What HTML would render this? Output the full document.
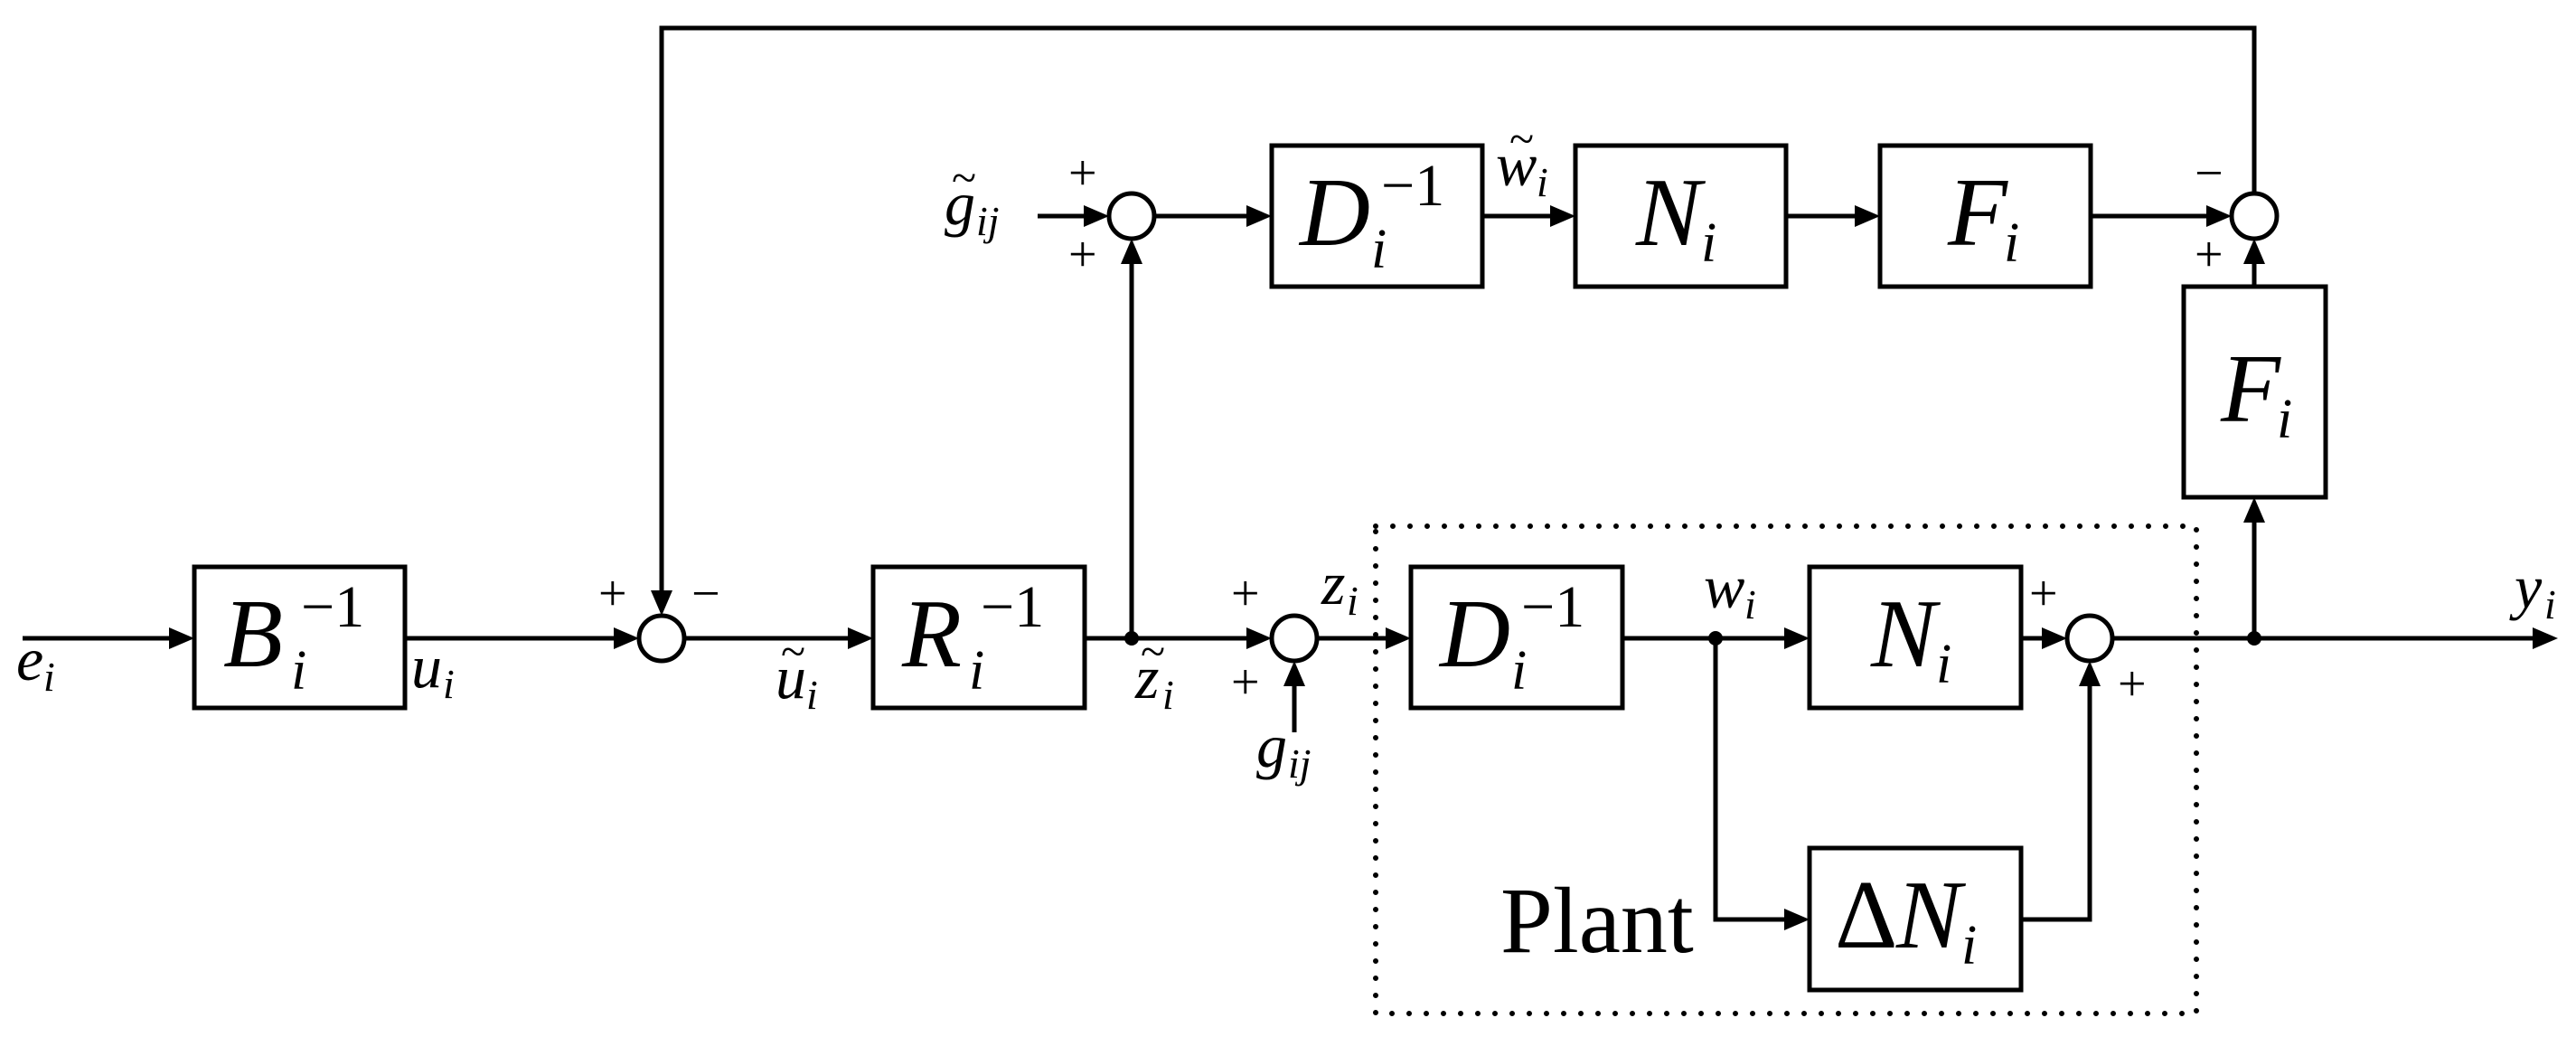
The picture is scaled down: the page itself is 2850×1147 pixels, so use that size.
<!DOCTYPE html>
<html><head><meta charset="utf-8"><style>
html,body{margin:0;padding:0;background:#fff}
svg{display:block}
text{font-family:'Liberation Serif','DejaVu Serif',serif;fill:#000}
.it{font-style:italic}
.big{font-size:108px}
.sup{font-size:66px;font-style:normal}
.sub{font-size:62px;font-style:italic}
.lbl{font-size:68px;font-style:italic}
.lsub{font-size:46px;font-style:italic}
.pm{font-size:56px}
.tl{font-size:50px;font-style:normal}
</style></head><body>
<svg width="2850" height="1147" viewBox="0 0 2850 1147" xmlns="http://www.w3.org/2000/svg" font-family="Liberation Serif, serif">
<g fill="none" stroke="#000" stroke-width="5">
<rect x="215" y="627" width="233" height="156"/>
<rect x="966" y="627" width="234" height="156"/>
<rect x="1561" y="627" width="234" height="156"/>
<rect x="2002" y="627" width="234" height="156"/>
<rect x="2002" y="938" width="234" height="157"/>
<rect x="1407" y="161" width="233" height="156"/>
<rect x="1743" y="161" width="233" height="156"/>
<rect x="2080" y="161" width="233" height="156"/>
<rect x="2416" y="317" width="157" height="233"/>
<circle cx="732" cy="706" r="25"/>
<circle cx="1432" cy="706" r="25"/>
<circle cx="2312" cy="706" r="25"/>
<circle cx="1252" cy="239" r="25"/>
<circle cx="2494" cy="239" r="25"/>
<path d="M25 706H188"/>
<path d="M448 706H680"/>
<path d="M757 706H939"/>
<path d="M1200 706H1380"/>
<path d="M1457 706H1534"/>
<path d="M1795 706H1975"/>
<path d="M2236 706H2260"/>
<path d="M2337 706H2803"/>
<path d="M1252 706V291"/>
<path d="M1432 810V758"/>
<path d="M1148 239H1200"/>
<path d="M1277 239H1380"/>
<path d="M1640 239H1716"/>
<path d="M1976 239H2053"/>
<path d="M2313 239H2442"/>
<path d="M2494 214V31H732V654"/>
<path d="M2494 706V577"/>
<path d="M2494 317V291"/>
<path d="M1898 706V1017H1975"/>
<path d="M2236 1017H2312V758"/>
</g>
<rect x="1522" y="582" width="908" height="539" fill="none" stroke="#000" stroke-width="6" stroke-linecap="round" stroke-dasharray="0 19"/>
<g fill="#000">
<polygon points="215,706 187,694 187,718"/>
<polygon points="707,706 679,694 679,718"/>
<polygon points="966,706 938,694 938,718"/>
<polygon points="1407,706 1379,694 1379,718"/>
<polygon points="1561,706 1533,694 1533,718"/>
<polygon points="2002,706 1974,694 1974,718"/>
<polygon points="2287,706 2259,694 2259,718"/>
<polygon points="2830,706 2802,694 2802,718"/>
<polygon points="2002,1017 1974,1005 1974,1029"/>
<polygon points="732,681 720,653 744,653"/>
<polygon points="1432,731 1420,759 1444,759"/>
<polygon points="2312,731 2300,759 2324,759"/>
<polygon points="1252,264 1240,292 1264,292"/>
<polygon points="2494,264 2482,292 2506,292"/>
<polygon points="2494,550 2482,578 2506,578"/>
<polygon points="1227,239 1199,227 1199,251"/>
<polygon points="1407,239 1379,227 1379,251"/>
<polygon points="1743,239 1715,227 1715,251"/>
<polygon points="2080,239 2052,227 2052,251"/>
<polygon points="2469,239 2441,227 2441,251"/>
<circle cx="1252" cy="706" r="8"/>
<circle cx="1898" cy="706" r="8"/>
<circle cx="2494" cy="706" r="8"/>
</g>
<text x="247" y="737" class="big it">B</text><text x="333" y="693" class="sup">−1</text><text x="322" y="762" class="sub">i</text>
<text x="998" y="737" class="big it">R</text><text x="1085" y="693" class="sup">−1</text><text x="1072" y="762" class="sub">i</text>
<text x="1593" y="737" class="big it">D</text><text x="1683" y="693" class="sup">−1</text><text x="1672" y="762" class="sub">i</text>
<text x="1438" y="271" class="big it">D</text><text x="1528" y="227" class="sup">−1</text><text x="1517" y="296" class="sub">i</text>
<text x="2070" y="737" class="big it">N</text><text x="2142" y="755" class="sub">i</text>
<text x="1810" y="271" class="big it">N</text><text x="1882" y="289" class="sub">i</text>
<text x="2155" y="271" class="big it">F</text><text x="2217" y="289" class="sub">i</text>
<text x="2457" y="466" class="big it">F</text><text x="2519" y="484" class="sub">i</text>
<text x="2030" y="1048" class="big">Δ</text><text x="2098" y="1048" class="big it">N</text><text x="2170" y="1066" class="sub">i</text>
<text x="1660" y="1053" style="font-size:104px">Plant</text>
<text x="18" y="752" class="lbl">e</text><text x="48" y="764" class="lsub">i</text>
<text x="455" y="760" class="lbl">u</text><text x="490" y="772" class="lsub">i</text>
<text x="858" y="772" class="lbl">u</text><text x="864" y="737" class="tl">~</text><text x="892" y="784" class="lsub">i</text>
<text x="1256" y="772" class="lbl">z</text><text x="1262" y="737" class="tl">~</text><text x="1286" y="784" class="lsub">i</text>
<text x="1390" y="848" class="lbl">g</text><text x="1425" y="860" class="lsub">ij</text>
<text x="1045" y="248" class="lbl">g</text><text x="1053" y="213" class="tl">~</text><text x="1080" y="260" class="lsub">ij</text>
<text x="1655" y="205" class="lbl">w</text><text x="1670" y="170" class="tl">~</text><text x="1700" y="217" class="lsub">i</text>
<text x="1462" y="668" class="lbl">z</text><text x="1490" y="680" class="lsub">i</text>
<text x="1885" y="672" class="lbl">w</text><text x="1930" y="684" class="lsub">i</text>
<text x="2782" y="672" class="lbl">y</text><text x="2815" y="684" class="lsub">i</text>
<text x="662" y="675" class="pm">+</text><text x="765" y="675" class="pm">−</text>
<text x="1362" y="675" class="pm">+</text><text x="1362" y="773" class="pm">+</text>
<text x="1182" y="210" class="pm">+</text><text x="1182" y="300" class="pm">+</text>
<text x="2428" y="210" class="pm">−</text><text x="2428" y="300" class="pm">+</text>
<text x="2245" y="675" class="pm">+</text><text x="2343" y="775" class="pm">+</text>
</svg>
</body></html>
